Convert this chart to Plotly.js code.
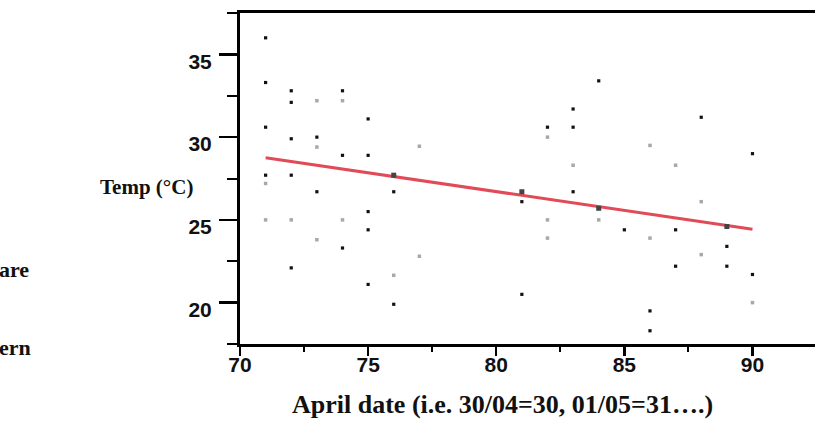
<!DOCTYPE html>
<html><head><meta charset="utf-8">
<script src="https://cdn.plot.ly/plotly-3.0.1.min.js"></script>
<style>html,body{margin:0;padding:0;background:#fff}#chart{width:815px;height:439px}</style>
</head><body><div id="chart"></div>
<script>
// Daily temperatures (black points)
const blackDays  = [71,71,71,71, 72,72,72,72,72, 73,73, 74,74,74, 75,75,75,75,75, 76,76, 81,81, 82, 83,83,83, 84, 85, 86,86, 87,87, 88, 89,89, 90,90];
const blackTemps = [36.0,33.3,30.6,27.7, 32.8,32.1,29.9,27.7,22.1, 30.0,26.7, 32.8,28.9,23.3, 31.1,28.9,25.5,24.4,21.1, 26.7,19.9, 26.1,20.5, 30.6, 31.7,30.6,26.7, 33.4, 24.4, 19.5,18.3, 24.4,22.2, 31.2, 23.4,22.2, 29.0,21.7];
// Daily temperatures (grey points)
const greyDays  = [71,71, 72, 73,73,73, 74,74, 76, 77,77, 82,82,82, 83, 84, 86,86, 87, 88,88, 90];
const greyTemps = [27.2,25.0, 25.0, 32.2,29.4,23.8, 32.2,25.0, 21.65, 29.45,22.8, 30.0,25.0,23.9, 28.3, 25.0, 29.5,23.9, 28.3, 26.1,22.9, 20.0];
// Darker points lying on the trend line
const lineDays  = [76, 81, 84, 89];
const lineTemps = [27.7, 26.7, 25.7, 24.6];
// Trend line end values
const trendDays  = [71, 90];
const trendTemps = [28.76, 24.43];
// Ticks
const xTicks = [70, 75, 80, 85, 90];
const yTicks = [20, 25, 30, 35];

const traces = [
  {x: trendDays, y: trendTemps, mode: 'lines', line: {color: '#e24a58', width: 3}, hoverinfo: 'skip'},
  {x: greyDays, y: greyTemps, mode: 'markers', marker: {symbol: 'square', size: 3.5, color: '#a8a8a8'}},
  {x: blackDays, y: blackTemps, mode: 'markers', marker: {symbol: 'square', size: 3.2, color: '#111'}},
  {x: lineDays, y: lineTemps, mode: 'markers', marker: {symbol: 'square', size: 5, color: '#444'}}
];

const tickFont = {family: 'Liberation Sans, Arial, sans-serif', size: 21, color: '#111', weight: 'bold'};
const serifBold = {family: 'Liberation Serif, Times New Roman, serif', size: 21, color: '#111', weight: 'bold'};

const layout = {
  width: 815, height: 439,
  margin: {l: 240, r: 0, t: 13, b: 95, pad: 0},
  paper_bgcolor: '#fff', plot_bgcolor: '#fff',
  showlegend: false,
  xaxis: {
    range: [70, 92.44], tickvals: xTicks, ticktext: xTicks.map(String),
    showgrid: false, zeroline: false,
    showline: true, linecolor: '#000', linewidth: 3, mirror: true,
    ticks: 'outside', ticklen: 9, tickwidth: 2.5, tickcolor: '#000',
    minor: {dtick: 2.5, tick0: 70, ticks: 'outside', ticklen: 5, tickwidth: 2, tickcolor: '#000', showgrid: false},
    tickfont: tickFont, ticklabelstandoff: -9
  },
  yaxis: {
    range: [17.5, 37.5], tickvals: yTicks, ticktext: yTicks.map(String),
    showgrid: false, zeroline: false,
    showline: true, linecolor: '#000', linewidth: 3, mirror: false,
    ticks: 'outside', ticklen: 18, tickwidth: 2.5, tickcolor: '#000',
    minor: {dtick: 2.5, tick0: 17.5, ticks: 'outside', ticklen: 10, tickwidth: 2, tickcolor: '#000', showgrid: false},
    tickfont: tickFont, ticklabelstandoff: 3, ticklabelshift: 7
  },
  annotations: [
    {text: 'Temp (°C)', xref: 'paper', yref: 'paper', x: -0.0783, y: 0.474, xanchor: 'right', yanchor: 'middle', showarrow: false, font: serifBold},
    {text: 'are', xref: 'paper', yref: 'paper', x: -0.4226, y: 0.2236, xanchor: 'left', yanchor: 'middle', showarrow: false, font: {family: 'Liberation Serif, Times New Roman, serif', size: 22, color: '#111', weight: 'bold'}},
    {text: 'ern', xref: 'paper', yref: 'paper', x: -0.4226, y: -0.012, xanchor: 'left', yanchor: 'middle', showarrow: false, font: {family: 'Liberation Serif, Times New Roman, serif', size: 22, color: '#111', weight: 'bold'}},
    {text: 'April date (i.e. 30/04=30, 01/05=31….)', xref: 'paper', yref: 'paper', x: 0.457, y: -0.184, xanchor: 'center', yanchor: 'middle', showarrow: false, font: {family: 'Liberation Serif, Times New Roman, serif', size: 26, color: '#111', weight: 'bold'}}
  ]
};

Plotly.newPlot('chart', traces, layout, {staticPlot: true, displayModeBar: false});
</script></body></html>
